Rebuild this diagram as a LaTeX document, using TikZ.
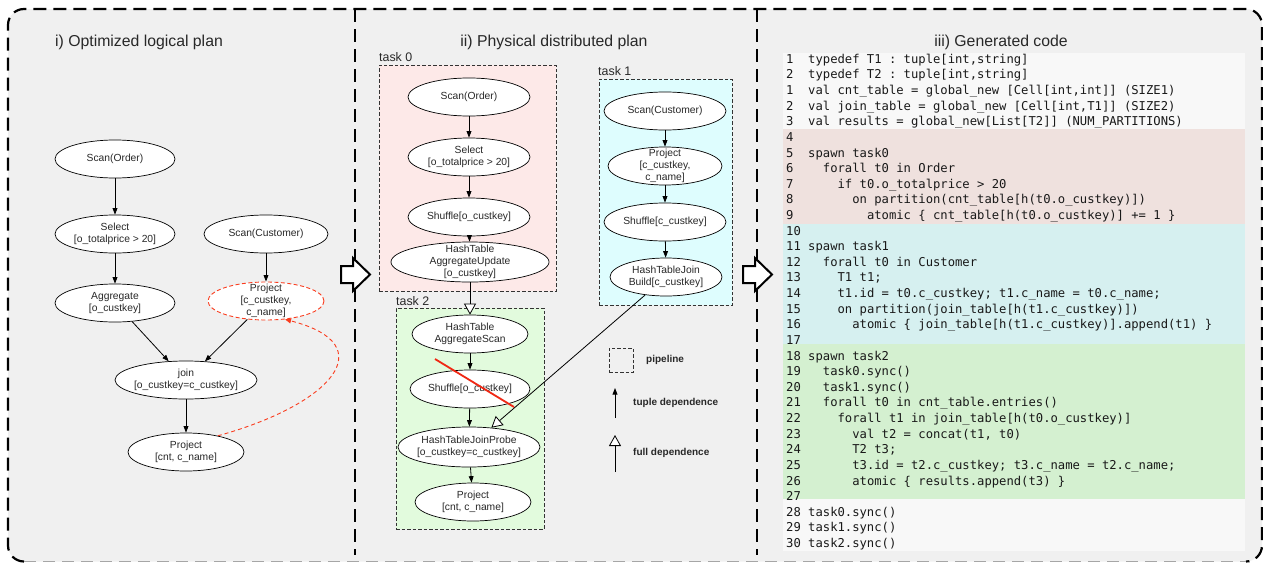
\documentclass[tikz,border=0pt]{standalone}
\usepackage{fontspec}
\setmainfont{Liberation Sans}
\newfontfamily\codefont{DejaVu Sans Mono}
\usetikzlibrary{arrows.meta,shapes.geometric}

\definecolor{panelbg}{RGB}{240,240,240}
\definecolor{inkc}{RGB}{40,40,40}
\definecolor{taskA}{RGB}{253,233,232}
\definecolor{taskB}{RGB}{222,253,254}
\definecolor{taskC}{RGB}{226,251,221}
\definecolor{bandW}{RGB}{248,248,248}
\definecolor{bandA}{RGB}{239,225,222}
\definecolor{bandB}{RGB}{214,240,240}
\definecolor{bandC}{RGB}{212,240,208}
\definecolor{hotred}{RGB}{250,60,30}
\definecolor{cutred}{RGB}{240,40,20}

\tikzset{
  frame/.style={draw=black, line width=2.2pt, dash pattern=on 13pt off 7pt},
  op/.style={ellipse, draw=black, fill=white, line width=0.7pt,
    inner xsep=-40pt, inner ysep=-15pt, align=center, text=inkc,
    minimum width=120pt, minimum height=38pt,
    font=\fontsize{10.3}{12}\selectfont},
  redop/.style={op, draw=hotred, dash pattern=on 4pt off 2.5pt, line width=0.9pt},
  tup/.style={draw=black, line width=0.8pt, -{Triangle[length=6.5pt,width=4.8pt]}},
  full/.style={draw=black, line width=0.8pt, -{Triangle[length=11pt,width=12pt,fill=white]}},
  redarrow/.style={draw=hotred, line width=0.9pt, dash pattern=on 4pt off 3pt,
    -{Triangle[length=6pt,width=5pt]}},
  taskbox/.style={rectangle, draw=black!80, line width=0.7pt,
    dash pattern=on 3.5pt off 2pt, inner sep=0pt},
  tasklabel/.style={anchor=base west, inner sep=0pt, text=inkc,
    font=\fontsize{12.4}{14}\selectfont},
  title/.style={anchor=base, inner sep=0pt, text=inkc,
    font=\fontsize{15.8}{18}\selectfont},
  legendtext/.style={anchor=west, inner sep=0pt, text=inkc,
    font=\fontsize{10}{12}\selectfont\bfseries},
  blockarrow/.style={draw=black, fill=white, line width=2pt, line join=miter},
  codeline/.style={anchor=base west, inner sep=0pt, text=black!90,
    font=\codefont\fontsize{12.2}{14}\selectfont\frenchspacing},
}

\begin{document}
\begin{tikzpicture}[x=1pt,y=-1pt]
\useasboundingbox (0,0) rectangle (1263,562);

% outer panel
\fill[panelbg, rounded corners=16pt] (8,9) rectangle (1262,561.5);
\draw[frame, rounded corners=16pt] (24,561.5) -- (8,561.5) -- (8,9) -- (1262,9) -- (1262,561.5) -- (1246,561.5);
\draw[draw=black!35, line width=1.6pt, dash pattern=on 12pt off 7pt] (24,561.5) -- (1246,561.5);
\draw[frame] (355,9) -- (355,555);
\draw[frame] (757,9) -- (757,555);

% titles
\node[title] (ttl1) at (139,46.5) {i) Optimized logical plan};
\node[title] (ttl2) at (554,46.5) {ii) Physical distributed plan};
\node[title] (ttl3) at (1001,46.5) {iii) Generated code};

% ---------- logical plan ----------
\node[op] (lscan) at (115,159) {Scan(Order)};
\node[op] (lsel) at (115,234) {Select\\{}[o\_totalprice > 20]};
\node[op, minimum width=124pt] (lcust) at (266,234) {Scan(Customer)};
\node[op] (lagg) at (115,303) {Aggregate\\{}[o\_custkey]};
\node[redop, minimum width=116pt] (lproj) at (266,301) {Project\\{}[c\_custkey,\\c\_name]};
\node[op, minimum width=142pt] (ljoin) at (186,380) {join\\{}[o\_custkey=c\_custkey]};
\node[op, minimum width=116pt] (lout) at (186,452) {Project\\{}[cnt, c\_name]};

\draw[tup] (lscan) -- (lsel);
\draw[tup] (lsel) -- (lagg);
\draw[tup] (lcust) -- (lproj);
\draw[tup] (lagg) -- (ljoin);
\draw[tup] (lproj) -- (ljoin);
\draw[tup] (ljoin) -- (lout);
\draw[redarrow] (lout.27) .. controls (330,405) and (385,345) .. (lproj.-44);

% ---------- physical plan ----------
\node[taskbox, fill=taskA, minimum width=177pt, minimum height=226pt] (task0) at (467.5,178) {};
\node[taskbox, fill=taskB, minimum width=133pt, minimum height=226pt] (task1) at (665.5,192) {};
\node[taskbox, fill=taskC, minimum width=148pt, minimum height=221pt] (task2) at (470,418.5) {};
\node[tasklabel] (task0l) at (379,61) {task 0};
\node[tasklabel] (task1l) at (598,75) {task 1};
\node[tasklabel] (task2l) at (396,305.5) {task 2};

\node[op, minimum width=122pt] (ascan) at (469,97) {Scan(Order)};
\node[op, minimum width=122pt] (asel) at (469,157) {Select\\{}[o\_totalprice > 20]};
\node[op, minimum width=122pt] (ashuf) at (469,217) {Shuffle[o\_custkey]};
\node[op, minimum width=158pt, minimum height=40pt] (aupd) at (470,262) {HashTable\\AggregateUpdate\\{}[o\_custkey]};

\node[op, minimum width=122pt] (bscan) at (665,111) {Scan(Customer)};
\node[op, minimum width=114pt] (bproj) at (665,166) {Project\\{}[c\_custkey,\\c\_name]};
\node[op, minimum width=122pt] (bshuf) at (665,222) {Shuffle[c\_custkey]};
\node[op, minimum width=112pt] (bbuild) at (666,277) {HashTableJoin\\Build[c\_custkey]};

\node[op, minimum width=116pt] (cscan) at (470,334) {HashTable\\AggregateScan};
\node[op] (cshuf) at (470,389) {Shuffle[o\_custkey]};
\node[op, minimum width=142pt, minimum height=40pt] (cprobe) at (469,447) {HashTableJoinProbe\\{}[o\_custkey=c\_custkey]};
\node[op, minimum width=116pt] (cout) at (473,502) {Project\\{}[cnt, c\_name]};

\draw[tup] (ascan) -- (asel);
\draw[tup] (asel) -- (ashuf);
\draw[tup] (ashuf) -- (aupd);
\draw[tup] (bscan) -- (bproj);
\draw[tup] (bproj) -- (bshuf);
\draw[tup] (bshuf) -- (bbuild);
\draw[tup] (cscan) -- (cshuf);
\draw[tup] (cshuf) -- (cprobe);
\draw[tup] (cprobe) -- (cout);
\draw[full] (aupd) -- (cscan);
\draw[full] (bbuild) -- (cprobe);

% struck-out shuffle
\coordinate (cutA) at (435,359);
\coordinate (cutB) at (514,407);
\draw[cutred, line width=1.8pt] (cutA) -- (cutB);

% legend
\node[taskbox, minimum width=24pt, minimum height=24pt] (legbox) at (621,360) {};
\node[legendtext] (legpipe) at (646,360) {pipeline};
\coordinate (legta) at (615,418);
\coordinate (legtb) at (615,388);
\draw[tup] (legta) -- (legtb);
\node[legendtext] (legtup) at (633,403) {tuple dependence};
\coordinate (legfa) at (615,472);
\coordinate (legfb) at (615,435);
\draw[full] (legfa) -- (legfb);
\node[legendtext] (legfull) at (633,453) {full dependence};

% transition arrows between panels
\draw[blockarrow] (341,266) -- (353,266) -- (353,258) -- (370,274.5) -- (353,291) -- (353,283) -- (341,283) -- cycle;
\draw[blockarrow] (743,266) -- (755,266) -- (755,258) -- (772,274.5) -- (755,291) -- (755,283) -- (743,283) -- cycle;

% ---------- generated code ----------
\fill[bandW] (783,53) rectangle (1245,128.5);
\fill[bandA] (783,128.5) rectangle (1245,224);
\fill[bandB] (783,224) rectangle (1245,344);
\fill[bandC] (783,344) rectangle (1245,499);
\fill[bandW] (783,499) rectangle (1245,551);

\foreach \ln [count=\i] in {
  {1~~typedef T1 : tuple[int,string]},
  {2~~typedef T2 : tuple[int,string]},
  {1~~val cnt\_table = global\_new [Cell[int,int]] (SIZE1)},
  {2~~val join\_table = global\_new [Cell[int,T1]] (SIZE2)},
  {3~~val results = global\_new[List[T2]] (NUM\_PARTITIONS)},
  {4},
  {5~~spawn task0},
  {6~~~~forall t0 in Order},
  {7~~~~~~if t0.o\_totalprice > 20},
  {8~~~~~~~~on partition(cnt\_table[h(t0.o\_custkey)])},
  {9~~~~~~~~~~atomic \{ cnt\_table[h(t0.o\_custkey)] += 1 \}},
  {10},
  {11~spawn task1},
  {12~~~forall t0 in Customer},
  {13~~~~~T1 t1;},
  {14~~~~~t1.id = t0.c\_custkey; t1.c\_name = t0.c\_name;},
  {15~~~~~on partition(join\_table[h(t1.c\_custkey)])},
  {16~~~~~~~atomic \{ join\_table[h(t1.c\_custkey)].append(t1) \}},
  {17},
  {18~spawn task2},
  {19~~~task0.sync()},
  {20~~~task1.sync()},
  {21~~~forall t0 in cnt\_table.entries()},
  {22~~~~~forall t1 in join\_table[h(t0.o\_custkey)]},
  {23~~~~~~~val t2 = concat(t1, t0)},
  {24~~~~~~~T2 t3;},
  {25~~~~~~~t3.id = t2.c\_custkey; t3.c\_name = t2.c\_name;},
  {26~~~~~~~atomic \{ results.append(t3) \}},
  {27},
  {28~task0.sync()},
  {29~task1.sync()},
  {30~task2.sync()}%
}{
  \node[codeline] (code\i) at (786,{63.3+15.62*(\i-1)}) {\ln};
}
\end{tikzpicture}
\end{document}
